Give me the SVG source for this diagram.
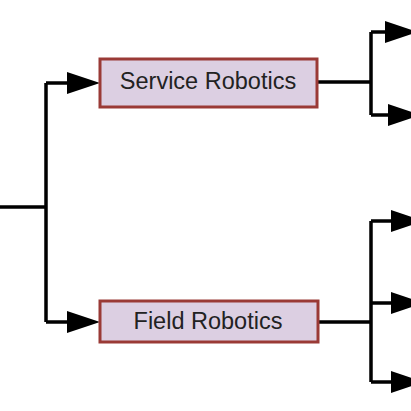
<svg xmlns="http://www.w3.org/2000/svg" width="411" height="411" viewBox="0 0 411 411">
<defs>
<style>
.box{fill:#dccfe2;stroke:#9a3a36;stroke-width:3}
.lbl{font-family:"Liberation Sans",Arial,sans-serif;font-size:23.5px;fill:#222;text-anchor:middle}
.ln{fill:none;stroke:#000;stroke-width:3.5;stroke-linejoin:miter}
.ah{fill:#000}
</style>
</defs>
<rect width="411" height="411" fill="#fff"/>
<g id="connectors">
<path class="ln" d="M0,207 H46 M46,83 V322 M46,83 H70 M46,322 H70"/>
<polygon class="ah" points="67,72 100,83 67,94"/>
<polygon class="ah" points="67,311 100,322 67,333"/>
<path class="ln" d="M317,82 H371 M371,32 V115 M371,32 H390 M371,115 H390"/>
<polygon class="ah" points="385,21 418,32 385,43"/>
<polygon class="ah" points="388,104 421,115 388,126"/>
<path class="ln" d="M318,322 H371 M371,221 V382 M371,221 H395 M371,303 H395 M371,382 H395"/>
<polygon class="ah" points="391,210 424,221 391,232"/>
<polygon class="ah" points="391,292 424,303 391,314"/>
<polygon class="ah" points="391,371 424,382 391,393"/>
</g>
<g id="service-robotics">
<rect class="box" x="100" y="59" width="217" height="48"/>
<text class="lbl" x="208" y="88.5">Service Robotics</text>
</g>
<g id="field-robotics">
<rect class="box" x="100" y="301" width="218" height="41"/>
<text class="lbl" x="208" y="328.5">Field Robotics</text>
</g>
</svg>
